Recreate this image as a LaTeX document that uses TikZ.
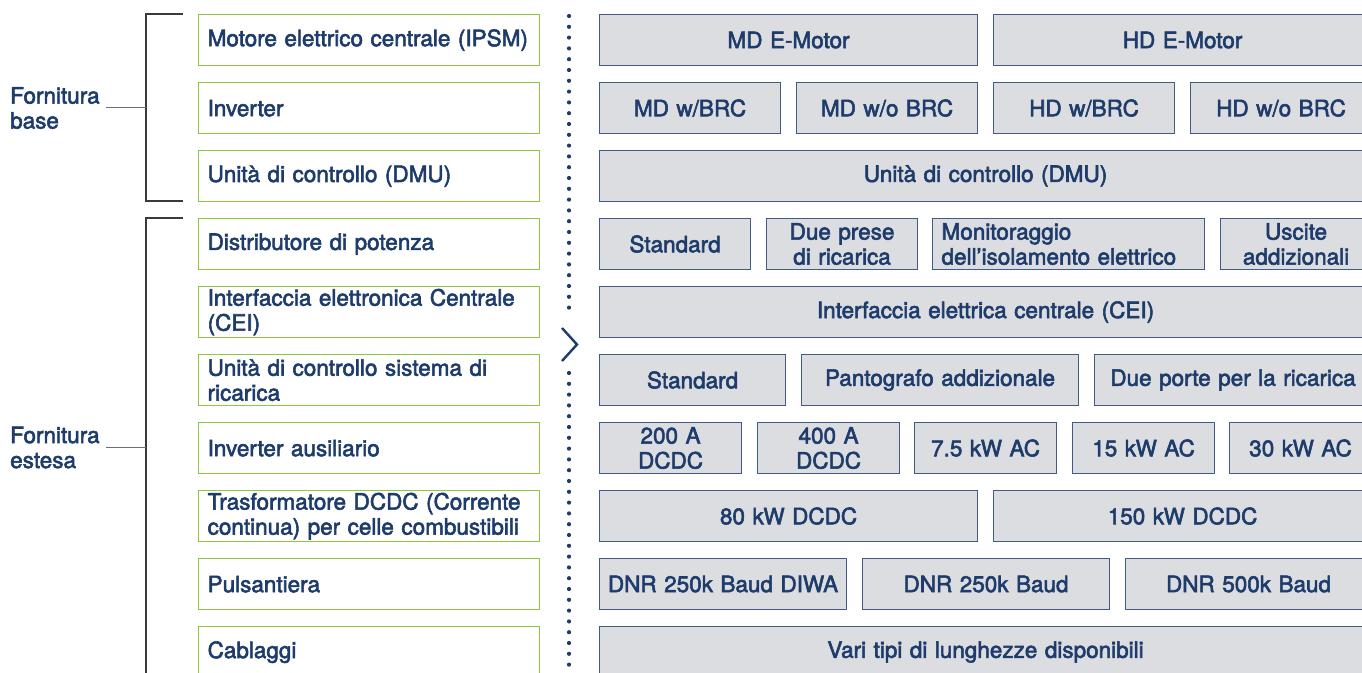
\documentclass[tikz,border=0pt]{standalone}
\usepackage{fontspec}
\setmainfont{TeX Gyre Heros}[FakeBold=2.5]
\definecolor{navy}{HTML}{1E3C6B}
\definecolor{boxline}{HTML}{3F5B86}
\definecolor{boxfill}{HTML}{DCDDE0}
\definecolor{lgreen}{HTML}{8DC83F}
\definecolor{brk}{HTML}{3A3A3A}
\definecolor{tick}{HTML}{707070}
\tikzset{
  lbox/.style={draw=lgreen, line width=1.3pt, anchor=north west, minimum height=51pt,
    text width=323pt, inner xsep=9pt, inner ysep=0pt, align=left, text=navy,
    font=\fontsize{22.5}{25}\selectfont},
  rbox/.style={draw=boxline, fill=boxfill, line width=1.1pt, anchor=north west,
    minimum height=51pt, inner xsep=2pt, inner ysep=0pt, align=center, text=navy,
    font=\fontsize{22.5}{25}\selectfont},
  glabel/.style={anchor=west, align=left, text=navy, inner sep=0pt,
    font=\fontsize{22.5}{25}\selectfont},
  bracketline/.style={draw=brk, line width=1.1pt},
  tickline/.style={draw=tick, line width=1.2pt},
  dotline/.style={draw=navy, line width=4.2pt, line cap=round, dash pattern=on 0pt off 10.8pt},
}
\newcommand{\rb}[5]{\node[rbox, minimum width=#4pt, text width=#4pt-4pt] (#1) at (#2,#3) {#5};}
\begin{document}
\begin{tikzpicture}[x=1pt,y=-1pt]
\useasboundingbox (0,0) rectangle (1362,672);
\clip (0,0) rectangle (1362,672);
% left boxes
\node[lbox] (l0) at (198,14) {Motore elettrico centrale (IPSM)};
\node[lbox] (l1) at (198,82) {Inverter};
\node[lbox] (l2) at (198,150) {Unità di controllo (DMU)};
\node[lbox] (l3) at (198,218) {Distributore di potenza};
\node[lbox] (l4) at (198,286) {Interfaccia elettronica Centrale\\(CEI)};
\node[lbox] (l5) at (198,354) {Unità di controllo sistema di\\ricarica};
\node[lbox] (l6) at (198,422) {Inverter ausiliario};
\node[lbox] (l7) at (198,490) {Trasformatore DCDC (Corrente\\continua) per celle combustibili};
\node[lbox] (l8) at (198,558) {Pulsantiera};
\node[lbox] (l9) at (198,626) {Cablaggi};
% group labels
\node[glabel] (g1) at (10,108) {Fornitura\\base};
\node[glabel] (g2) at (10,447.5) {Fornitura\\estesa};
\coordinate (b1t) at (183,14);
\coordinate (b1b) at (183,201);
\coordinate (b1m) at (146,107.5);
\coordinate (b2t) at (183,218);
\coordinate (b2b) at (183,677);
\coordinate (b2m) at (146,447.5);
\draw[bracketline] (b1t) -- (146,14) -- (146,201) -- (b1b);
\draw[bracketline] (b2t) -- (146,218) -- (146,677) -- (b2b);
\draw[tickline] (106,107.5) -- (b1m);
\draw[tickline] (106,447.5) -- (b2m);
% dotted separator with chevron
\coordinate (d1) at (569,16);
\coordinate (d2) at (569,318);
\coordinate (d3) at (569,373);
\coordinate (d4) at (569,680);
\draw[dotline] (d1) -- (d2);
\draw[dotline] (d3) -- (d4);
\coordinate (c1) at (562,328);
\coordinate (c2) at (577,344.5);
\coordinate (c3) at (562,361);
\draw[navy, line width=2.4pt] (c1) -- (c2) -- (c3);
% right boxes
\rb{r00}{599}{14}{378}{MD E-Motor}
\rb{r01}{993}{14}{378}{HD E-Motor}
\rb{r10}{599}{82}{181}{MD w/BRC}
\rb{r11}{796}{82}{181}{MD w/o BRC}
\rb{r12}{993}{82}{181}{HD w/BRC}
\rb{r13}{1190}{82}{181}{HD w/o BRC}
\rb{r20}{599}{150}{772}{Unità di controllo (DMU)}
\rb{r30}{599}{218}{151}{Standard}
\rb{r31}{766}{218}{151}{Due prese\\di ricarica}
\node[rbox, minimum width=272pt, text width=254pt, inner xsep=9pt, align=left] (r32) at (932,218) {Monitoraggio\\dell’isolamento elettrico};
\rb{r33}{1220}{218}{151}{Uscite\\addizionali}
\rb{r40}{599}{286}{772}{Interfaccia elettrica centrale (CEI)}
\rb{r50}{599}{354}{186}{Standard}
\rb{r51}{801}{354}{277}{Pantografo addizionale}
\rb{r52}{1094}{354}{277}{Due porte per la ricarica}
\rb{r60}{599}{422}{142}{200 A\\DCDC}
\rb{r61}{757}{422}{142}{400 A\\DCDC}
\rb{r62}{914}{422}{142}{7.5 kW AC}
\rb{r63}{1072}{422}{142}{15 kW AC}
\rb{r64}{1229}{422}{142}{30 kW AC}
\rb{r70}{599}{490}{378}{80 kW DCDC}
\rb{r71}{993}{490}{378}{150 kW DCDC}
\rb{r80}{599}{558}{247}{DNR 250k Baud DIWA}
\rb{r81}{862}{558}{247}{DNR 250k Baud}
\rb{r82}{1125}{558}{246}{DNR 500k Baud}
\rb{r90}{599}{626}{772}{Vari tipi di lunghezze disponibili}
\end{tikzpicture}
\end{document}
